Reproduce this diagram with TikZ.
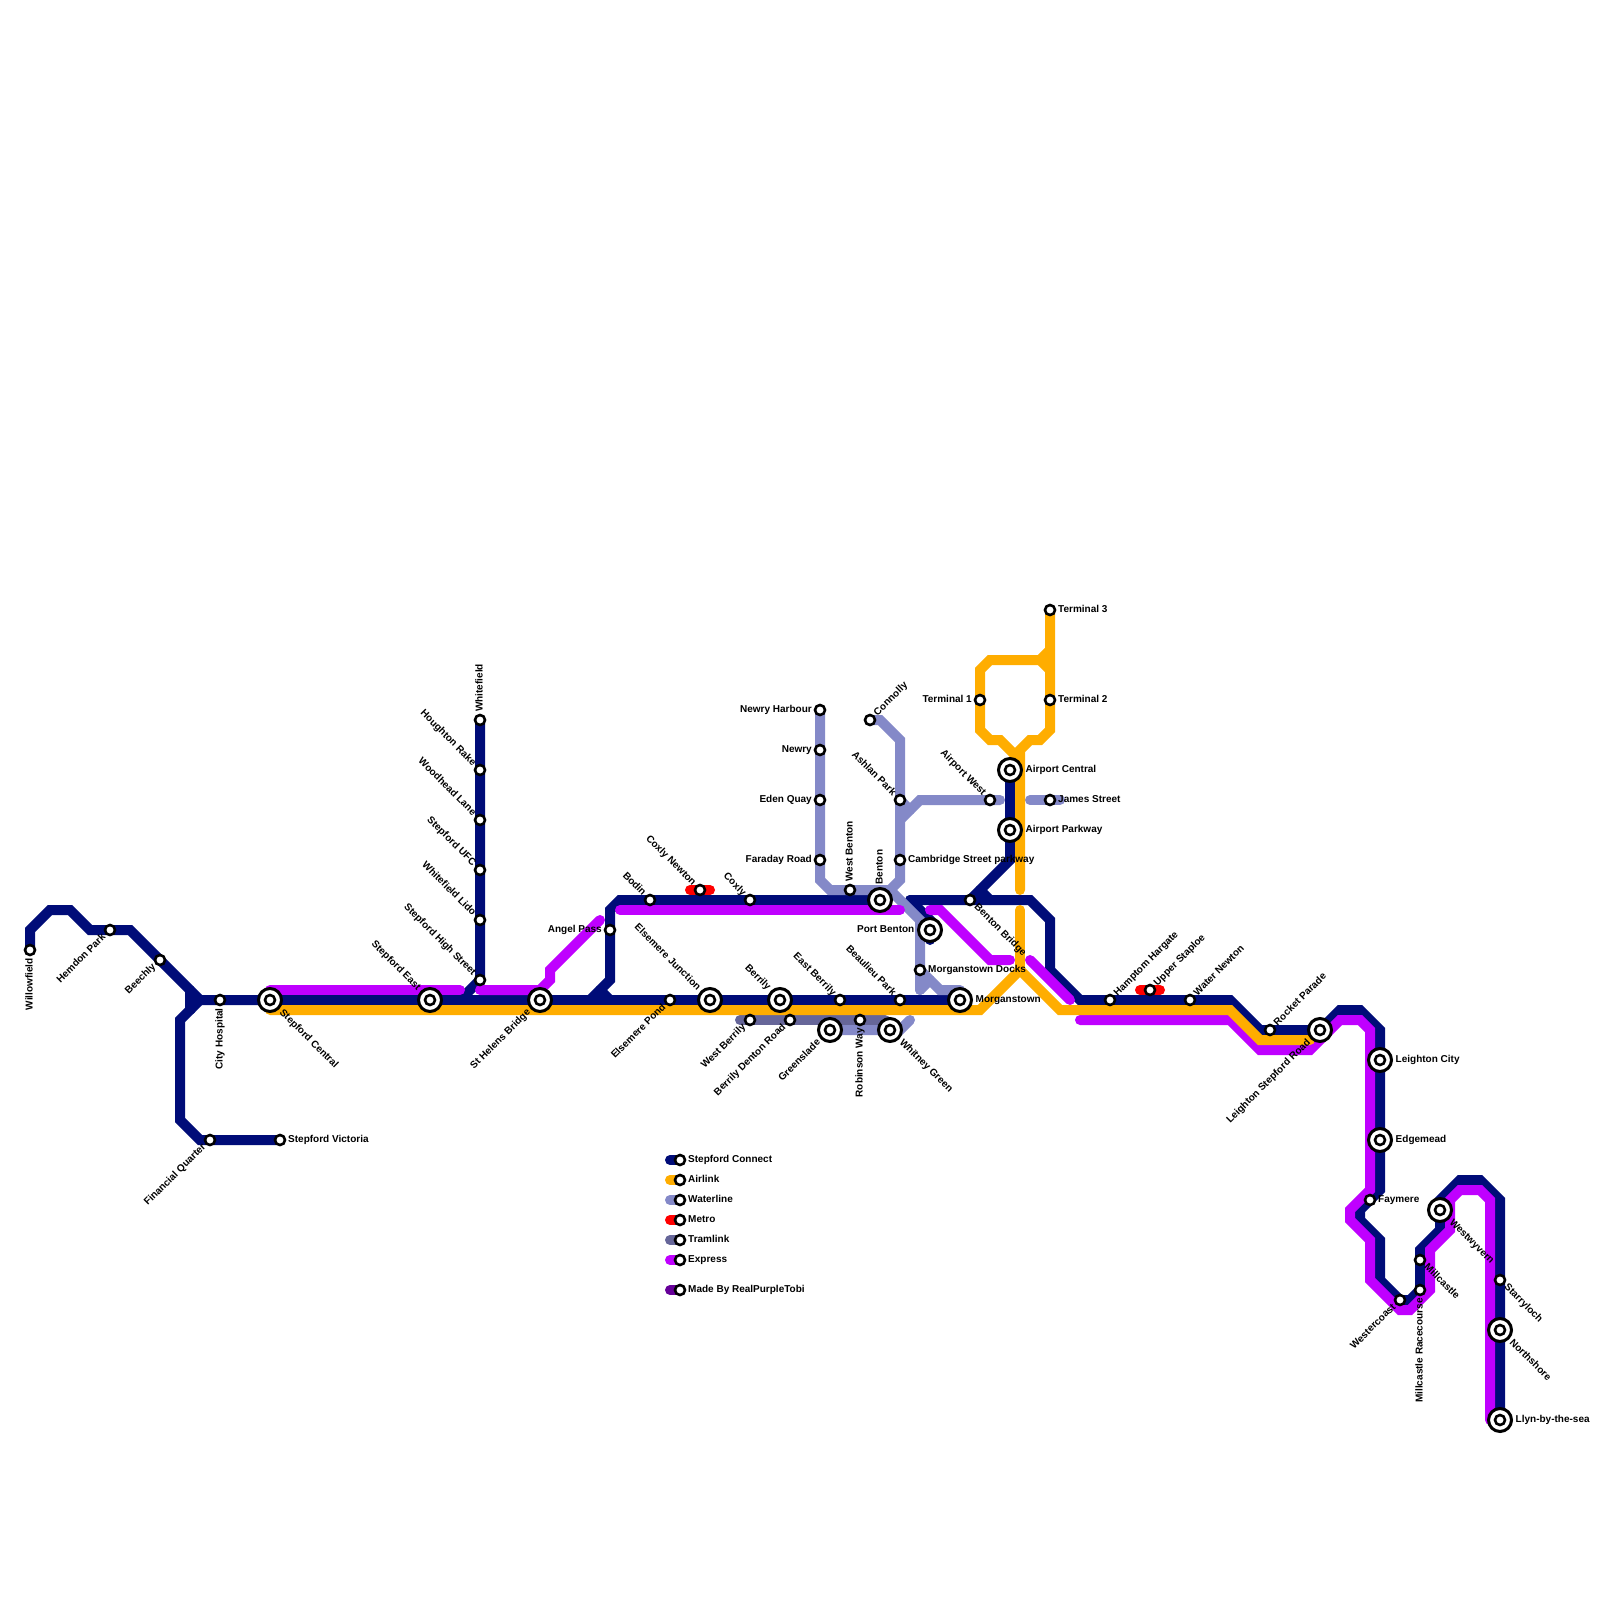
\documentclass[tikz,border=0pt]{standalone}
\usepackage{fontspec}
\setmainfont{Liberation Sans}
\pgfdeclarelayer{lines}
\pgfsetlayers{lines,main}
\definecolor{cblue}{HTML}{000C78}
\definecolor{cyel}{HTML}{FFAD00}
\definecolor{cwat}{HTML}{8489C8}
\definecolor{cred}{HTML}{FF0000}
\definecolor{ctram}{HTML}{666699}
\definecolor{cexp}{HTML}{BF00FF}
\definecolor{cmade}{HTML}{660099}
\tikzset{
  rt/.style={line width=10pt,line cap=round,miter limit=10},
  blue/.style={rt,draw=cblue}, yel/.style={rt,draw=cyel}, wat/.style={rt,draw=cwat},
  redl/.style={rt,draw=cred}, tram/.style={rt,draw=ctram}, expr/.style={rt,draw=cexp},
  made/.style={rt,draw=cmade},
  sdot/.style={circle,draw=black,fill=white,line width=2.6pt,inner sep=0pt,outer sep=0pt,minimum size=10pt},
  idot/.style={circle,draw=black,fill=white,line width=3pt,inner sep=0pt,outer sep=0pt,minimum size=23pt},
  lab/.style={inner sep=0pt,font=\bfseries\fontsize{10}{10}\selectfont,text height=5.4pt,text depth=0pt},
  d0/.style={anchor=west},
  d180/.style={anchor=east},
  d90/.style={rotate=90,anchor=west},
  d270/.style={rotate=90,anchor=east},
  d45/.style={rotate=45,anchor=west},
  d225/.style={rotate=45,anchor=east},
  d315/.style={rotate=-45,anchor=west},
  d135/.style={rotate=-45,anchor=east},
}
% small station: id, x, y, label direction, text
\newcommand\sta[5]{%
  \node[sdot] (#1) at (#2,#3) {};
  \pgfmathsetmacro\dx{8*cos(#4)}\pgfmathsetmacro\dy{-8*sin(#4)}
  \node[lab,d#4] (#1-l) at ({#2+\dx},{#3+\dy}) {#5};
}
% interchange station
\newcommand\ista[5]{%
  \node[idot] (#1) at (#2,#3) {};
  \node[sdot] (#1-in) at (#2,#3) {};
  \pgfmathsetmacro\dx{15.5*cos(#4)}\pgfmathsetmacro\dy{-15.5*sin(#4)}
  \node[lab,d#4] (#1-l) at ({#2+\dx},{#3+\dy}) {#5};
}
\begin{document}
\begin{tikzpicture}[x=1pt,y=-1pt]
\useasboundingbox (0,0) rectangle (1600,1600);
% stations
\sta{willow}{30}{950}{270}{Willowfield}
\sta{hemdon}{110}{930}{225}{Hemdon Park}
\sta{beech}{160}{960}{225}{Beechly}
\sta{cityh}{220}{1000}{270}{City Hospital}
\ista{stcen}{270}{1000}{315}{Stepford Central}
\ista{steast}{430}{1000}{135}{Stepford East}
\sta{fin}{210}{1140}{225}{Financial Quarter}
\sta{stvic}{280}{1140}{0}{Stepford Victoria}
\sta{wfield}{480}{720}{90}{Whitefield}
\sta{hough}{480}{770}{135}{Houghton Rake}
\sta{wood}{480}{820}{135}{Woodhead Lane}
\sta{ufc}{480}{870}{135}{Stepford UFC}
\sta{lido}{480}{920}{135}{Whitefield Lido}
\sta{high}{480}{980}{135}{Stepford High Street}
\ista{helens}{540}{1000}{225}{St Helens Bridge}
\sta{angel}{610}{930}{180}{Angel Pass}
\sta{bodin}{650}{900}{135}{Bodin}
\sta{coxn}{700}{890}{135}{Coxly Newton}
\sta{coxly}{750}{900}{135}{Coxly}
\sta{epond}{670}{1000}{225}{Elsemere Pond}
\ista{ejunc}{710}{1000}{135}{Elsemere Junction}
\ista{berr}{780}{1000}{135}{Berrily}
\sta{wberr}{750}{1020}{225}{West Berrily}
\sta{bdr}{790}{1020}{225}{Berrily Denton Road}
\sta{eberr}{840}{1000}{135}{East Berrily}
\sta{beau}{900}{1000}{135}{Beaulieu Park}
\ista{green}{830}{1030}{225}{Greenslade}
\sta{robin}{860}{1020}{270}{Robinson Way}
\ista{whit}{890}{1030}{315}{Whitney Green}
\ista{morg}{960}{1000}{0}{Morganstown}
\ista{pben}{930}{930}{180}{Port Benton}
\sta{mdock}{920}{970}{0}{Morganstown Docks}
\ista{benton}{880}{900}{90}{Benton}
\sta{wben}{850}{890}{90}{West Benton}
\sta{conn}{870}{720}{45}{Connolly}
\sta{ashlan}{900}{800}{135}{Ashlan Park}
\sta{awest}{990}{800}{135}{Airport West}
\sta{camb}{900}{860}{0}{Cambridge Street parkway}
\sta{harb}{820}{710}{180}{Newry Harbour}
\sta{newry}{820}{750}{180}{Newry}
\sta{eden}{820}{800}{180}{Eden Quay}
\sta{fara}{820}{860}{180}{Faraday Road}
\sta{t1}{980}{700}{180}{Terminal 1}
\sta{t2}{1050}{700}{0}{Terminal 2}
\sta{t3}{1050}{610}{0}{Terminal 3}
\ista{acen}{1010}{770}{0}{Airport Central}
\ista{apark}{1010}{830}{0}{Airport Parkway}
\sta{james}{1050}{800}{0}{James Street}
\sta{bbridge}{970}{900}{315}{Benton Bridge}
\sta{hamp}{1110}{1000}{45}{Hamptom Hargate}
\sta{upper}{1150}{990}{45}{Upper Staploe}
\sta{water}{1190}{1000}{45}{Water Newton}
\sta{rocket}{1270}{1030}{45}{Rocket Parade}
\ista{lsr}{1320}{1030}{225}{Leighton Stepford Road}
\ista{lcity}{1380}{1060}{0}{Leighton City}
\ista{edge}{1380}{1140}{0}{Edgemead}
\sta{fay}{1370}{1200}{0}{Faymere}
\sta{wcoast}{1400}{1300}{225}{Westercoast}
\sta{race}{1420}{1290}{270}{Millcastle Racecourse}
\sta{mill}{1420}{1260}{315}{Millcastle}
\ista{wwyv}{1440}{1210}{315}{Westwyvern}
\sta{starry}{1500}{1280}{315}{Starryloch}
\ista{north}{1500}{1330}{315}{Northshore}
\ista{llyn}{1500}{1420}{0}{Llyn-by-the-sea}
% legend
\sta{k1}{680}{1160}{0}{Stepford Connect}
\sta{k2}{680}{1180}{0}{Airlink}
\sta{k3}{680}{1200}{0}{Waterline}
\sta{k4}{680}{1220}{0}{Metro}
\sta{k5}{680}{1240}{0}{Tramlink}
\sta{k6}{680}{1260}{0}{Express}
\sta{k7}{680}{1290}{0}{Made By RealPurpleTobi}
\coordinate (k1s) at (670,1160);\coordinate (k2s) at (670,1180);\coordinate (k3s) at (670,1200);
\coordinate (k4s) at (670,1220);\coordinate (k5s) at (670,1240);\coordinate (k6s) at (670,1260);
\coordinate (k7s) at (670,1290);
\begin{pgfonlayer}{lines}
% stepford connect
\draw[blue] (willow.center) -- (30,930) -- (50,910) -- (70,910) -- (90,930) -- (130,930) -- (190,990) -- (200,1000) -- (morg.center);
\draw[blue] (190,990) -- (190,1010) -- (180,1020) -- (180,1120) -- (200,1140) -- (stvic.center);
\draw[blue] (200,1000) -- (190,1010);
\draw[blue] (wfield.center) -- (480,980) -- (460,1000);
\draw[blue] (590,1000) -- (610,980) -- (610,910) -- (620,900) -- (885,900);
\draw[blue] (600,990) -- (610,1000);
\draw[blue] (acen.center) -- (1010,860) -- (970,900);
\draw[blue] (980,890) -- (990,900);
\draw[blue] (pben.center) ++(0,10) -- (930,920) -- (910,900);
\draw[blue] (910,900) -- (1030,900) -- (1050,920) -- (1050,970) -- (1080,1000) -- (1230,1000) -- (1260,1030) -- (1320,1030) -- (1340,1010) -- (1360,1010) -- (1380,1030) -- (1380,1190) -- (1360,1210) -- (1360,1220) -- (1380,1240) -- (1380,1280) -- (1400,1300) -- (1410,1300) -- (1420,1290) -- (1420,1250) -- (1440,1230) -- (1440,1200) -- (1460,1180) -- (1480,1180) -- (1500,1200) -- (llyn.center);
% tram
\draw[tram] (740,1020) -- (885,1020);
% waterline
\draw[wat] (harb.center) -- (820,880) -- (830,890) -- (890,890) -- (900,880) -- (900,740) -- (880,720) -- (conn.center);
\draw[wat] (890,890) -- (920,920) -- (920,990);
\draw[wat] (mdock.center) -- (940,990) -- (960,990);
\draw[wat] (920,990) -- (930,980);
\draw[wat] (900,820) -- (920,800) -- (1000,800);
\draw[wat] (ashlan.center) -- (910,810);
\draw[wat] (1030,800) -- (1060,800);
\draw[wat] (green.center) -- (900,1030) -- (910,1020);
% red
\draw[redl] (690,890) -- (710,890);
\draw[redl] (1140,990) -- (1160,990);
% express
\draw[expr] (stcen.center) ++(0,-10) -- (460,990);
\draw[expr] (480,990) -- (540,990) -- (550,980) -- (550,970) -- (600,920);
\draw[expr] (620,910) -- (900,910);
\draw[expr] (930,910) -- (940,910) -- (990,960) -- (1010,960);
\draw[expr] (1030,960) -- (1070,1000);
\draw[expr] (1080,1020) -- (1230,1020) -- (1260,1050) -- (1310,1050) -- (1340,1020) -- (1360,1020) -- (1370,1030) -- (1370,1190) -- (1350,1210) -- (1350,1220) -- (1370,1240) -- (1370,1280) -- (1400,1310) -- (1410,1310) -- (1430,1290) -- (1430,1250) -- (1450,1230) -- (1450,1200) -- (1460,1190) -- (1480,1190) -- (1490,1200) -- (1490,1420);
% airlink
\draw[yel] (stcen.center) ++(0,10) -- (980,1010) -- (1020,970) -- (1060,1010) -- (1230,1010) -- (1260,1040) -- (1310,1040);
\draw[yel] (1020,970) -- (1020,910);
\draw[yel] (1020,890) -- (1020,750) -- (1030,740) -- (1040,740) -- (1050,730) -- (t3.center);
\draw[yel] (1020,760) -- (1000,740) -- (990,740) -- (980,730) -- (980,670) -- (990,660) -- (1040,660) -- (1050,650);
\draw[yel] (1040,660) -- (1050,670);
% legend swatches
\draw[blue] (k1s) -- (k1.center);
\draw[yel] (k2s) -- (k2.center);
\draw[wat] (k3s) -- (k3.center);
\draw[redl] (k4s) -- (k4.center);
\draw[tram] (k5s) -- (k5.center);
\draw[expr] (k6s) -- (k6.center);
\draw[made] (k7s) -- (k7.center);
\end{pgfonlayer}
\end{tikzpicture}
\end{document}
